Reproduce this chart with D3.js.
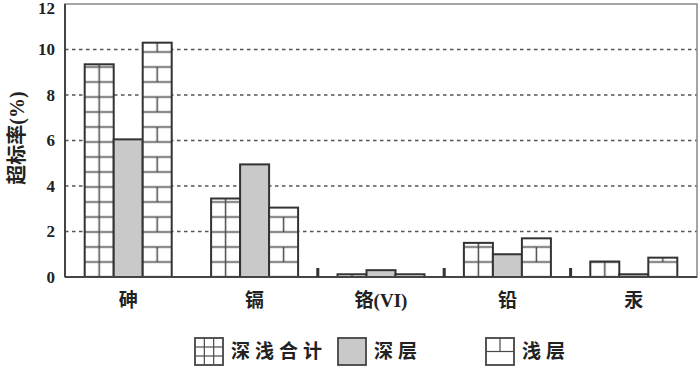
<!DOCTYPE html>
<html>
<head>
<meta charset="utf-8">
<script src="https://cdn.jsdelivr.net/npm/d3@7"></script>
<style>
  body { margin: 0; background: #fff; }
  text { font-family: 'Liberation Serif', 'Noto Sans CJK SC', serif; font-weight: bold; fill: #222; }
</style>
</head>
<body>
<svg id="chart"></svg>
<script>
const categories = ['砷', '镉', '铬(VI)', '铅', '汞']
const seriesNames = ['深浅合计', '深层', '浅层']
const totalValues = [9.35, 3.45, 0.12, 1.5, 0.68]
const deepValues = [6.05, 4.95, 0.3, 1.0, 0.12]
const shallowValues = [10.3, 3.05, 0.12, 1.7, 0.85]
const yTicks = [0, 2, 4, 6, 8, 10, 12]

const width = 700
const height = 370
const margin = { top: 4, left: 65, right: 3, bottom: 93 }
const innerW = width - margin.left - margin.right
const innerH = height - margin.top - margin.bottom

const svg = d3.select('#chart').attr('width', width).attr('height', height)
const defs = svg.append('defs')
const g = svg.append('g').attr('transform', 'translate(' + margin.left + ',' + margin.top + ')')

const x = d3.scaleBand().domain(categories).range([0, innerW])
const bw = x.bandwidth()
const groupW = 87
const x1 = d3.scaleBand().domain(seriesNames).range([bw / 2 - groupW / 2, bw / 2 + groupW / 2])
const y = d3.scaleLinear().domain([0, 12]).range([innerH, 0])

const rows = []
categories.forEach((c, i) => {
  rows.push({ cat: c, series: seriesNames[0], value: totalValues[i] })
  rows.push({ cat: c, series: seriesNames[1], value: deepValues[i] })
  rows.push({ cat: c, series: seriesNames[2], value: shallowValues[i] })
})

const lineCol = '#4a4a4a'
const rowH = 15

// one pattern per bar so the hatching lines up with the bar
// (userSpaceOnUse here = the translated g the bars live in)
function addPattern(id, series, px, py, w) {
  if (series === seriesNames[1]) return
  const tileH = series === seriesNames[0] ? rowH : rowH * 2
  const p = defs.append('pattern')
    .attr('id', id)
    .attr('patternUnits', 'userSpaceOnUse')
    .attr('x', px).attr('y', py - rowH / 2)
    .attr('width', w)
    .attr('height', tileH)
  p.append('rect').attr('width', w).attr('height', tileH).attr('fill', '#fff')
  const h = rowH / 2
  p.append('line').attr('x1', 0).attr('x2', w).attr('y1', h).attr('y2', h)
    .attr('stroke', lineCol).attr('stroke-width', 1.5)
  if (series === seriesNames[0]) {
    p.append('line').attr('x1', w / 2).attr('x2', w / 2).attr('y1', 0).attr('y2', tileH)
      .attr('stroke', lineCol).attr('stroke-width', 1.5)
  } else {
    p.append('line').attr('x1', 0).attr('x2', w).attr('y1', h + rowH).attr('y2', h + rowH)
      .attr('stroke', lineCol).attr('stroke-width', 1.5)
    p.append('line').attr('x1', w / 2).attr('x2', w / 2).attr('y1', h).attr('y2', h + rowH)
      .attr('stroke', lineCol).attr('stroke-width', 1.5)
  }
}

function fillFor(d, i) {
  return d.series === seriesNames[1] ? '#c9c9c9' : 'url(#bar' + i + ')'
}

rows.forEach((d, i) => {
  const bx = x(d.cat) + x1(d.series)
  addPattern('bar' + i, d.series, bx, y(0), x1.bandwidth())
})

// gridlines
g.append('g')
  .selectAll('line')
  .data(yTicks.filter(t => t > 0 && t < 12))
  .join('line')
  .attr('x1', 0).attr('x2', innerW)
  .attr('y1', d => y(d)).attr('y2', d => y(d))
  .attr('stroke', '#555')
  .attr('stroke-width', 1.6)
  .attr('stroke-dasharray', '3.5,3.5')

// frame
g.append('rect')
  .attr('x', 0).attr('y', 0)
  .attr('width', innerW).attr('height', innerH)
  .attr('fill', 'none')
  .attr('stroke', '#888')
  .attr('stroke-width', 1.5)

// bars
g.append('g')
  .selectAll('rect')
  .data(rows)
  .join('rect')
  .attr('x', d => x(d.cat) + x1(d.series))
  .attr('y', d => y(d.value))
  .attr('width', x1.bandwidth())
  .attr('height', d => y(0) - y(d.value))
  .attr('fill', fillFor)
  .attr('stroke', '#333')
  .attr('stroke-width', 2)

// axes
g.append('line').attr('x1', 0).attr('x2', 0).attr('y1', 0).attr('y2', innerH)
  .attr('stroke', '#444').attr('stroke-width', 2)
g.append('line').attr('x1', 0).attr('x2', innerW).attr('y1', innerH).attr('y2', innerH)
  .attr('stroke', '#444').attr('stroke-width', 2)

// category separator ticks
g.append('g')
  .selectAll('rect')
  .data(categories.slice(2))
  .join('rect')
  .attr('x', d => x(d) - 1.5)
  .attr('y', innerH - 9)
  .attr('width', 3)
  .attr('height', 9)
  .attr('fill', '#333')

// y tick labels
g.append('g')
  .selectAll('text')
  .data(yTicks)
  .join('text')
  .attr('x', -10)
  .attr('y', d => Math.max(y(d), 4))
  .attr('dy', '0.35em')
  .attr('text-anchor', 'end')
  .attr('font-size', 17)
  .text(d => d)

// x labels
g.append('g')
  .selectAll('text')
  .data(categories)
  .join('text')
  .attr('x', d => x(d) + bw / 2)
  .attr('y', innerH + 30)
  .attr('text-anchor', 'middle')
  .attr('font-size', 19)
  .text(d => d)

// y title
svg.append('text')
  .attr('transform', 'translate(24,' + 138 + ') rotate(-90)')
  .attr('text-anchor', 'middle')
  .attr('font-size', 20)
  .text('超标率(%)')

// legend
const legendX = [195, 338, 486]
const legend = svg.append('g')
seriesNames.forEach((s, i) => {
  const lx = legendX[i]
  const ly = 338
  const bwid = 28
  const bh = 27
  const lg = legend.append('g').attr('transform', 'translate(' + lx + ',' + ly + ')')
  lg.append('rect').attr('width', bwid).attr('height', bh)
    .attr('fill', i === 1 ? '#c9c9c9' : '#fff')
    .attr('stroke', '#444').attr('stroke-width', 1.8)
  if (i === 0) {
    [1, 2].forEach(k => {
      lg.append('line').attr('x1', bwid * k / 3).attr('x2', bwid * k / 3).attr('y1', 0).attr('y2', bh)
        .attr('stroke', lineCol).attr('stroke-width', 1.2)
      lg.append('line').attr('x1', 0).attr('x2', bwid).attr('y1', bh * k / 3).attr('y2', bh * k / 3)
        .attr('stroke', lineCol).attr('stroke-width', 1.2)
    })
  } else if (i === 2) {
    lg.append('line').attr('x1', 0).attr('x2', bwid).attr('y1', bh / 2).attr('y2', bh / 2)
      .attr('stroke', lineCol).attr('stroke-width', 1.2)
    lg.append('line').attr('x1', bwid / 2).attr('x2', bwid / 2).attr('y1', 0).attr('y2', bh / 2)
      .attr('stroke', lineCol).attr('stroke-width', 1.2)
  }
  lg.append('text')
    .attr('x', bwid + 8)
    .attr('y', bh / 2)
    .attr('dy', '0.36em')
    .attr('font-size', 19)
    .attr('letter-spacing', 5)
    .text(s)
})
</script>
</body>
</html>
